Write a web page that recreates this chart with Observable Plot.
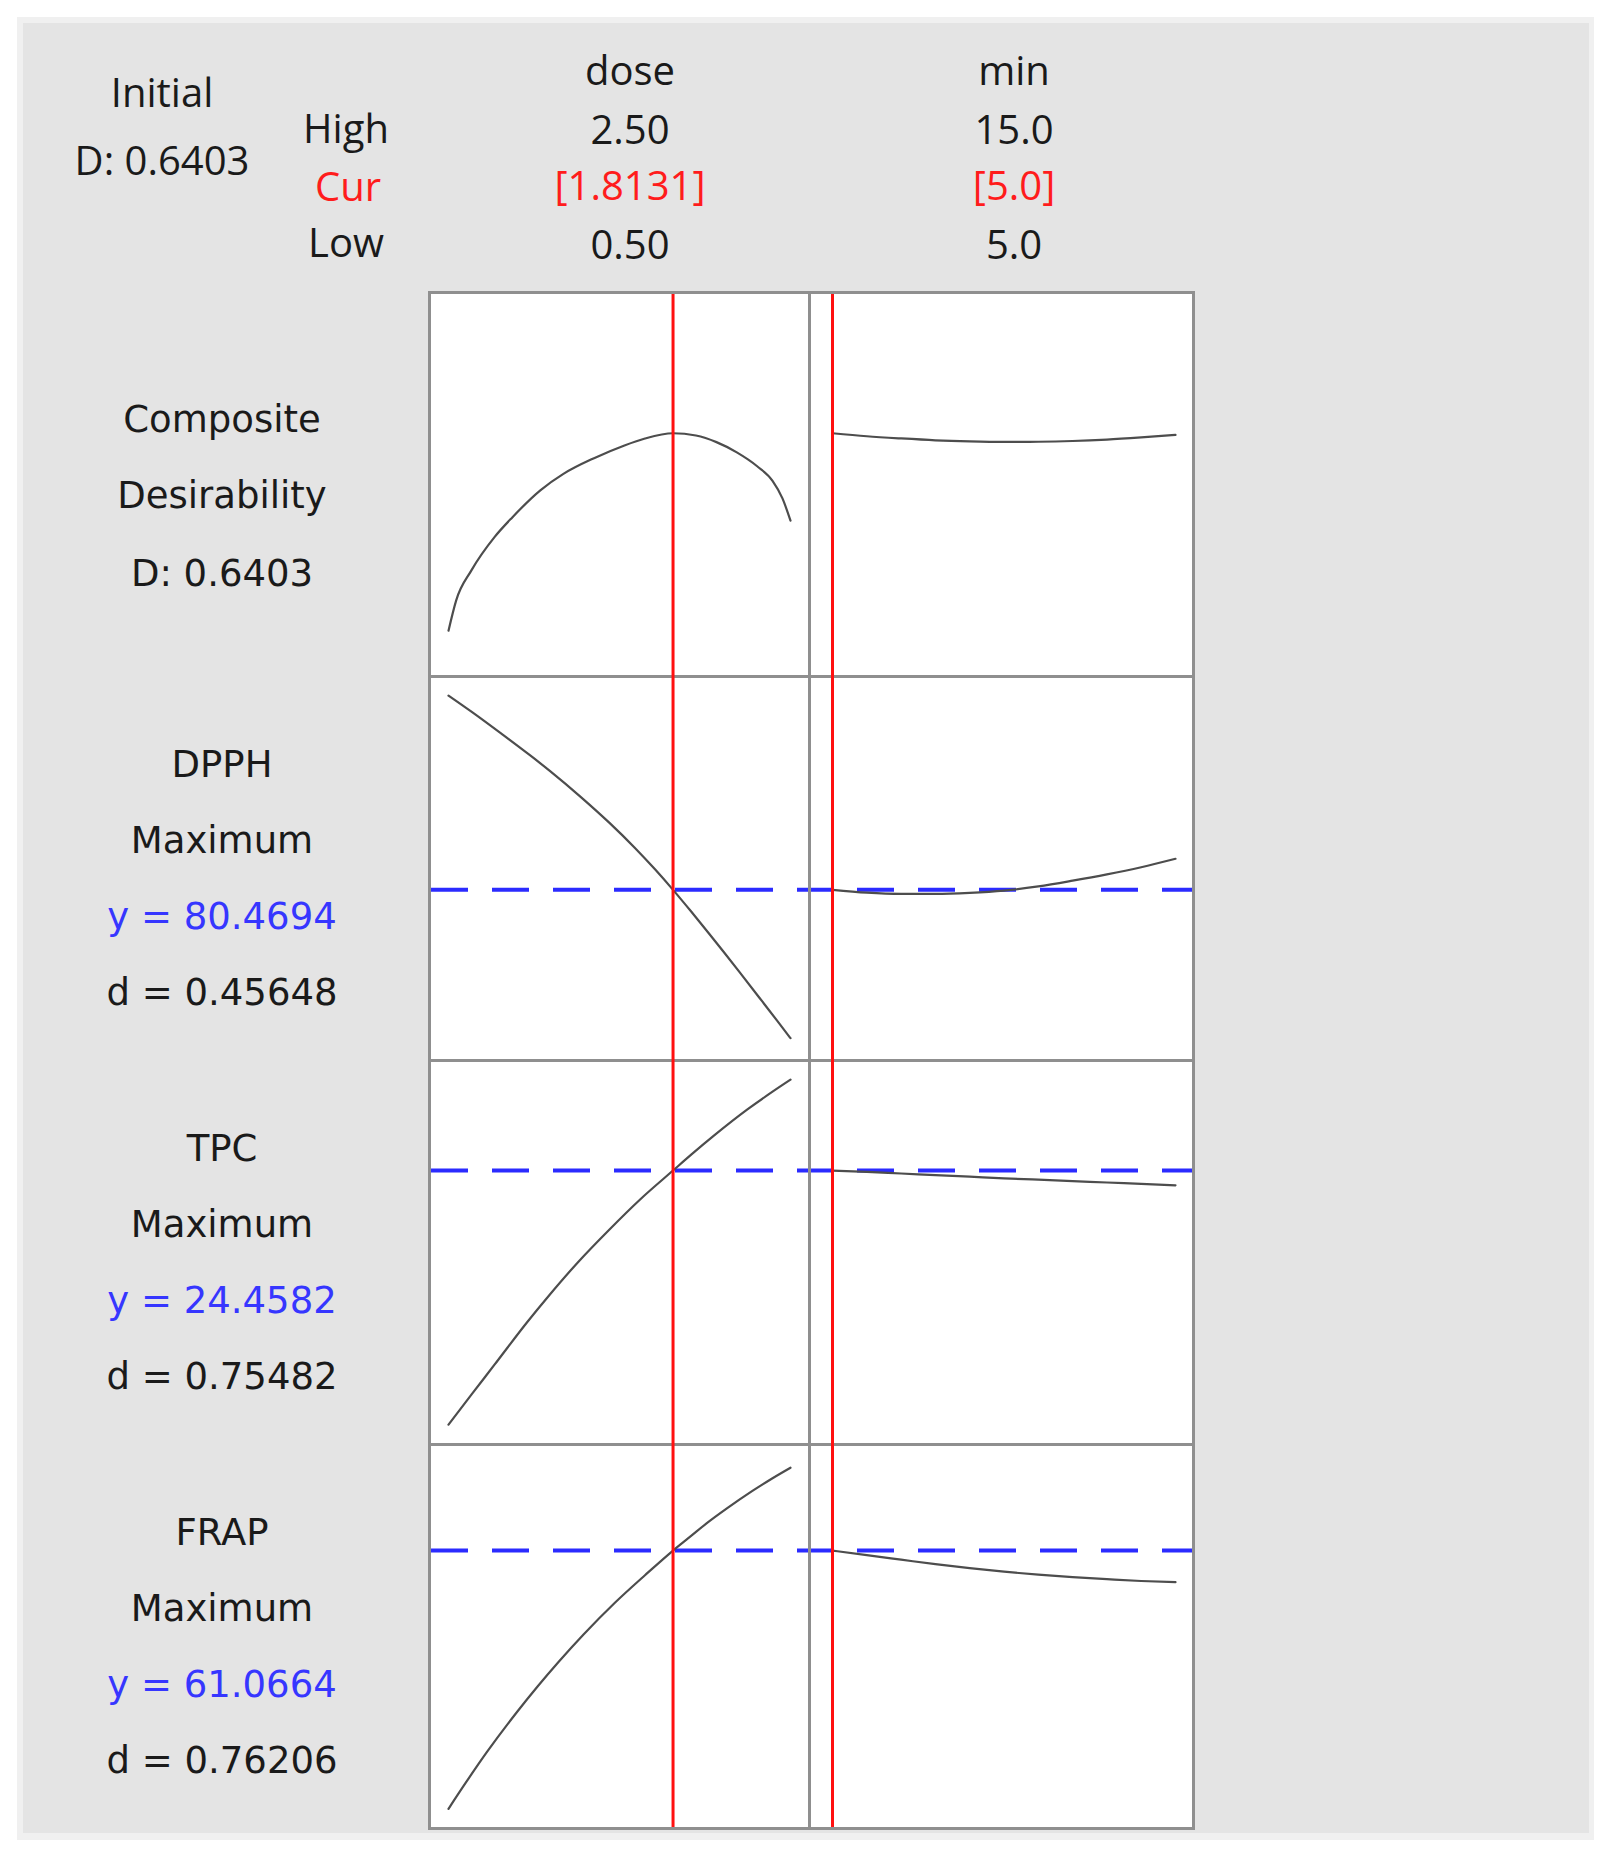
<!DOCTYPE html>
<html>
<head>
<meta charset="utf-8">
<script src="https://cdn.jsdelivr.net/npm/d3@7"></script>
<script src="https://cdn.jsdelivr.net/npm/@observablehq/plot@0.6"></script>
<style>
  html, body { margin: 0; padding: 0; background: #ffffff; }
  body { width: 1611px; height: 1858px; position: relative; overflow: hidden; }
  #outer { position: absolute; left: 17px; top: 17px; width: 1577px; height: 1823px; background: #f0f0f0; }
  #panel { position: absolute; left: 23px; top: 23px; width: 1566px; height: 1810px; background: #e4e4e4; }
  #grid { position: absolute; left: 428px; top: 291px; width: 767px; height: 1539px; background: #8f8f8f; }
  .cell { position: absolute; background: #ffffff; }
  .cell svg { display: block; overflow: visible; }
  .t { position: absolute; transform: translate(-50%, -50%); white-space: nowrap; line-height: 1; }
  .hd { font-family: "Open Sans", "Noto Sans", sans-serif; font-size: 40px; color: #1a1a1a; }
  .lb { font-family: "DejaVu Sans", Verdana, sans-serif; font-size: 37px; color: #1a1a1a; }
  .red { color: #ff1c1c; }
  .blue { color: #3636ff; }
</style>
</head>
<body>
<div id="outer"></div>
<div id="panel"></div>
<div id="grid"></div>
<script>
// ---------------- data ----------------
const factorNames = ["dose", "min"];
const factorHigh = ["2.50", "15.0"];
const factorCur = ["[1.8131]", "[5.0]"];
const factorLow = ["0.50", "5.0"];
const curSetting = [1.8131, 5.0];
const factorDomain = [[0.5, 2.5], [5, 15]];

const compositeD = 0.6403;
const responseNames = ["DPPH", "TPC", "FRAP"];
const responseGoals = ["Maximum", "Maximum", "Maximum"];
const responseY = [80.4694, 24.4582, 61.0664];
const responseD = [0.45648, 0.75482, 0.76206];

// Composite desirability vs dose
const compDoseX = [0.5, 0.545, 0.634, 0.769, 0.873, 1.037, 1.172, 1.351, 1.529, 1.649, 1.8131, 1.947, 2.067, 2.186, 2.305, 2.395, 2.453, 2.5];
const compDoseY = [0.100, 0.183, 0.265, 0.356, 0.410, 0.484, 0.529, 0.572, 0.607, 0.626, 0.6403, 0.634, 0.616, 0.588, 0.550, 0.510, 0.462, 0.401];
// Composite desirability vs min
const minX = [5, 6, 7, 8, 9, 10, 11, 12, 13, 14, 15];
const compMinY = [0.6403, 0.6320, 0.6260, 0.6210, 0.6180, 0.6165, 0.6170, 0.6190, 0.6230, 0.6290, 0.6360];

// DPPH
const dpphDoseX = [0.5, 0.634, 0.813, 0.978, 1.096, 1.276, 1.440, 1.589, 1.709, 1.8131, 1.918, 2.022, 2.112, 2.201, 2.335, 2.425, 2.5];
const dpphDoseY = [93.42, 92.35, 90.85, 89.43, 88.37, 86.64, 84.95, 83.28, 81.82, 80.4694, 79.04, 77.58, 76.29, 75.00, 73.03, 71.70, 70.58];
const dpphMinY = [80.4694, 80.28, 80.20, 80.20, 80.27, 80.42, 80.70, 81.08, 81.50, 81.98, 82.54];

// TPC
const tpcDoseX = [0.5, 0.634, 0.769, 0.962, 1.082, 1.260, 1.440, 1.619, 1.8131, 1.933, 2.052, 2.246, 2.395, 2.5];
const tpcDoseY = [11.75, 13.25, 14.75, 16.90, 18.15, 19.90, 21.50, 23.00, 24.4582, 25.35, 26.20, 27.50, 28.40, 29.00];
const tpcMinY = [24.4582, 24.39, 24.31, 24.23, 24.15, 24.07, 24.00, 23.93, 23.86, 23.79, 23.72];

// FRAP
const frapDoseX = [0.5, 0.605, 0.724, 0.904, 1.022, 1.142, 1.291, 1.470, 1.649, 1.8131, 1.917, 2.007, 2.126, 2.275, 2.395, 2.5];
const frapDoseY = [35.24, 37.95, 40.90, 45.00, 47.50, 49.90, 52.70, 55.80, 58.60, 61.0664, 62.50, 63.75, 65.25, 67.00, 68.30, 69.35];
const frapMinY = [61.0664, 60.60, 60.15, 59.70, 59.30, 58.95, 58.65, 58.40, 58.20, 58.02, 57.90];

// per-row vertical extent of each panel (response units)
const rowDomains = [[-0.0227, 1.020], [69.16, 94.56], [10.81, 29.86], [33.37, 71.47]];

// ---------------- layout ----------------
const G = {left: 428, top: 291, border: 3};
const colW = [377, 381];
const rowH = 381;
const colInset = [[17, 18], [21, 17]];
const dashOffset = [0, 15];

const rows = [
  {dose: [compDoseX, compDoseY], min: [minX, compMinY], target: null},
  {dose: [dpphDoseX, dpphDoseY], min: [minX, dpphMinY], target: responseY[0]},
  {dose: [tpcDoseX, tpcDoseY], min: [minX, tpcMinY], target: responseY[1]},
  {dose: [frapDoseX, frapDoseY], min: [minX, frapMinY], target: responseY[2]}
];

const grid = document.getElementById("grid");
rows.forEach((row, r) => {
  ["dose", "min"].forEach((key, c) => {
    const [xs, ys] = row[key];
    const pts = xs.map((x, i) => ({x, y: ys[i]}));
    const svg = Plot.plot({
      width: colW[c],
      height: rowH,
      margin: 0,
      x: {domain: factorDomain[c], insetLeft: colInset[c][0], insetRight: colInset[c][1], axis: null},
      y: {domain: rowDomains[r], axis: null},
      style: {background: "white", overflow: "visible"},
      marks: [
        row.target != null
          ? Plot.ruleY([row.target], {stroke: "#2b2bff", strokeWidth: 4, strokeDasharray: "37,24", strokeDashoffset: dashOffset[c]})
          : null,
        Plot.line(pts, {x: "x", y: "y", curve: "monotone-x", stroke: "#4d4d4d", strokeWidth: 2.2}),
        Plot.ruleX([curSetting[c]], {stroke: "#ff1010", strokeWidth: 3, insetTop: r > 0 ? -G.border : 0})
      ]
    });
    const div = document.createElement("div");
    div.className = "cell";
    div.style.left = (G.border + (c === 0 ? 0 : colW[0] + G.border)) + "px";
    div.style.top = (G.border + r * (rowH + G.border)) + "px";
    div.style.width = colW[c] + "px";
    div.style.height = rowH + "px";
    div.appendChild(svg);
    grid.appendChild(div);
  });
});

// ---------------- text ----------------
function txt(s, x, y, cls) {
  const d = document.createElement("div");
  d.className = "t " + cls;
  d.textContent = s;
  d.style.left = x + "px";
  d.style.top = y + "px";
  document.body.appendChild(d);
}
// header
txt("Initial", 162, 92, "hd");
txt("D: " + compositeD.toFixed(4), 162, 160, "hd");
txt("High", 346, 128, "hd");
txt("Cur", 348, 186, "hd red");
txt("Low", 346, 242, "hd");
const colCenters = [630, 1014];
factorNames.forEach((f, i) => {
  txt(f, colCenters[i], 70, "hd");
  txt(factorHigh[i], colCenters[i], 129, "hd");
  txt(factorCur[i], colCenters[i], 185, "hd red");
  txt(factorLow[i], colCenters[i], 244, "hd");
});
// left labels
const labX = 222;
const cellTop = r => G.top + G.border + r * (rowH + G.border);
txt("Composite", labX, cellTop(0) + 125, "lb");
txt("Desirability", labX, cellTop(0) + 201, "lb");
txt("D: " + compositeD.toFixed(4), labX, cellTop(0) + 279, "lb");
responseNames.forEach((name, i) => {
  const t = cellTop(i + 1);
  txt(name, labX, t + 86, "lb");
  txt(responseGoals[i], labX, t + 162, "lb");
  txt("y = " + responseY[i].toFixed(4), labX, t + 238, "lb blue");
  txt("d = " + responseD[i].toFixed(5), labX, t + 314, "lb");
});
</script>
</body>
</html>
